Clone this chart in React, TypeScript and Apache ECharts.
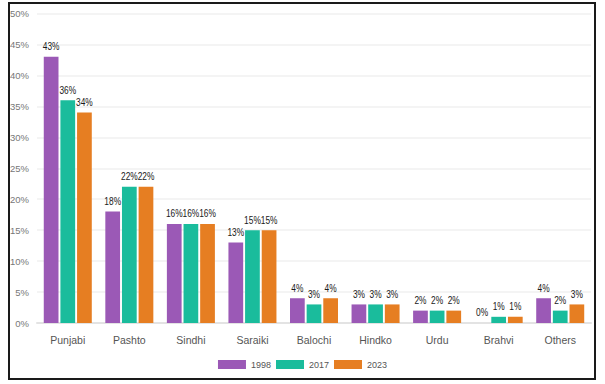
import React, { useEffect, useRef } from "react";
import * as echarts from "echarts";

const categories = ["Punjabi", "Pashto", "Sindhi", "Saraiki", "Balochi", "Hindko", "Urdu", "Brahvi", "Others"];
const years = ["1998", "2017", "2023"];
const values1998 = [43, 18, 16, 13, 4, 3, 2, 0, 4];
const values2017 = [36, 22, 16, 15, 3, 3, 2, 1, 2];
const values2023 = [34, 22, 16, 15, 4, 3, 2, 1, 3];
const colors = ["#9b59b6", "#1abc9c", "#e67e22"];

const FONT = "'Liberation Sans', Arial, sans-serif";
const CAT_GAP = 0.22;
const BAR_GAP = 0.13;

export default function App() {
  const ref = useRef<HTMLDivElement>(null);
  useEffect(() => {
    if (!ref.current) return;
    const chart = echarts.init(ref.current, null, { renderer: "svg" });
    const seriesData = [values1998, values2017, values2023];
    const n = years.length;

    const barSeries = years.map((y, i) => ({
      name: y,
      type: "bar",
      data: seriesData[i],
      barGap: `${BAR_GAP * 100}%`,
      barCategoryGap: `${CAT_GAP * 100}%`,
    }));

    const labelSeries = years.map((y, yi) => ({
      name: `label-${y}`,
      type: "custom",
      coordinateSystem: "cartesian2d",
      silent: true,
      z: 10,
      encode: { x: 0, y: 1 },
      data: seriesData[yi].map((v, ci) => [ci, v]),
      renderItem: (params: any, api: any) => {
        const cat = api.value(0);
        const val = api.value(1);
        const pt = api.coord([cat, val]);
        const band = api.size([1, 0])[0];
        const avail = band * (1 - CAT_GAP);
        const bw = avail / (n + (n - 1) * BAR_GAP);
        const x = pt[0] - avail / 2 + yi * bw * (1 + BAR_GAP) + bw / 2;
        return {
          type: "text",
          x,
          y: pt[1] - 5,
          scaleX: 0.76,
          style: {
            text: `${val}%`,
            align: "center",
            verticalAlign: "bottom",
            fontFamily: FONT,
            fontSize: 11,
            fill: "#1a1a1a",
          },
        };
      },
    }));

    chart.setOption({
      animation: false,
      color: colors,
      textStyle: { fontFamily: FONT },
      grid: { left: 37, right: 14, top: 13.5, bottom: 61, containLabel: false },
      legend: {
        bottom: 10,
        left: "center",
        itemWidth: 28,
        itemHeight: 9,
        itemGap: 5,
        icon: "rect",
        textStyle: { fontFamily: FONT, fontSize: 9, color: "#555" },
        data: years,
      },
      xAxis: {
        type: "category",
        data: categories,
        axisTick: { show: false },
        axisLine: { show: true, lineStyle: { color: "#e3e3e3", width: 2 } },
        axisLabel: { fontFamily: FONT, fontSize: 10.5, color: "#555", margin: 11 },
      },
      yAxis: {
        type: "value",
        min: 0,
        max: 50,
        interval: 5,
        axisLine: { show: false },
        axisTick: { show: false },
        splitLine: { lineStyle: { color: "#f1f1f1", width: 1.5 } },
        axisLabel: { fontFamily: FONT, fontSize: 9.5, color: "#777", margin: 8, formatter: "{value}%" },
      },
      series: [...barSeries, ...labelSeries],
    });
    return () => chart.dispose();
  }, []);
  return (
    <div style={{ position: "fixed", left: 0, top: 0, width: 605, height: 384, background: "#fff" }}>
      <div
        style={{
          position: "absolute",
          left: 8,
          top: 2,
          width: 584,
          height: 374,
          border: "2px solid #1a1a1a",
        }}
      />
      <div ref={ref} style={{ position: "absolute", left: 0, top: 0, width: 605, height: 384 }} />
    </div>
  );
}
